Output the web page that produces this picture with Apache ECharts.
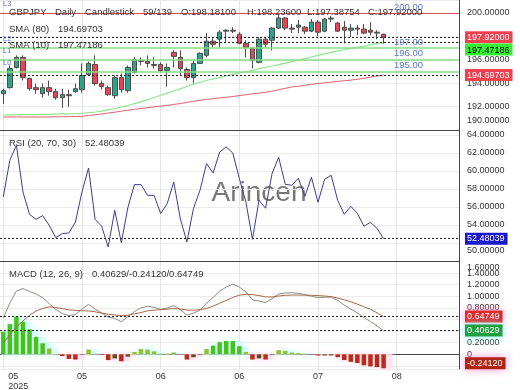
<!DOCTYPE html>
<html>
<head>
<meta charset="utf-8">
<script src="https://cdn.jsdelivr.net/npm/echarts@6.0.0/dist/echarts.min.js"></script>
<style>
html,body{margin:0;padding:0;background:#ffffff;}
#chart{width:520px;height:390px;}
</style>
</head>
<body>
<div id="chart"></div>
<script>
// ---------------- data ----------------
const symbolName = 'GBPJPY';
const periodName = 'Daily';
const chartTypeName = 'Candlestick';
const totalBars = 139;
const slotCount = 70;
const tickStep = 12;
const tickLabels = ['05\n2025', '05', '06', '06', '07', '08'];

const opens = [193.10,193.62,195.34,196.21,194.40,193.62,193.10,193.62,193.28,192.76,
 193.02,193.28,193.45,194.74,195.60,193.97,193.62,192.93,194.48,193.36,
 194.91,195.86,195.86,195.52,195.60,195.09,196.64,196.21,195.17,194.48,
 195.69,196.38,197.59,197.76,198.45,198.53,198.19,197.41,196.98,195.78,
 197.76,197.67,198.71,199.57,198.71,198.79,198.79,198.45,199.22,198.45,
 199.48,199.14,198.79,198.53,198.71,198.62,198.53,198.36,198.181];
const closes = [193.36,195.26,196.21,194.48,193.53,193.45,193.62,193.28,192.76,193.02,
 192.93,193.53,194.66,195.69,193.97,193.71,193.02,194.48,193.45,195.34,
 196.03,195.95,195.69,195.60,195.09,195.34,196.29,195.26,194.48,195.69,
 196.55,197.59,197.33,198.36,198.53,198.45,197.41,197.07,195.95,197.76,
 197.33,198.71,199.57,198.71,198.62,198.97,198.45,199.22,198.36,199.48,
 199.57,198.45,198.53,198.71,198.62,198.28,198.36,198.28,197.92];
const lows = [192.24,193.53,195.26,194.22,193.36,193.10,192.76,192.93,192.59,191.90,
 191.98,193.19,193.19,194.66,193.79,193.45,192.93,192.67,193.19,193.19,
 194.83,195.52,195.34,195.26,194.91,193.71,195.34,194.66,194.22,193.97,
 195.69,196.21,197.07,197.07,197.50,198.28,197.33,196.21,195.26,195.69,
 197.07,196.81,198.62,198.53,198.28,198.28,198.19,198.36,198.02,198.36,
 199.22,198.36,197.41,197.93,198.10,198.19,198.10,197.76,197.38754];
const highs = [193.53,195.52,196.38,196.38,194.48,193.97,193.97,194.22,193.53,193.53,
 193.45,193.97,195.69,195.86,196.38,194.22,193.79,194.66,194.83,195.52,
 196.21,196.21,196.38,196.21,195.78,195.69,196.81,196.81,195.34,195.95,
 196.64,198.28,197.84,198.53,198.60,198.79,198.36,197.67,197.07,197.93,
 197.93,198.79,199.83,199.66,199.05,199.40,198.88,199.48,199.40,199.57,
 199.74,199.22,199.31,199.05,198.97,199.05,199.22,198.53,198.236];

const sma10 = [191.28,191.29,191.30,191.31,191.32,191.32,191.33,191.34,191.36,191.38,
 191.38,191.40,191.43,191.49,191.54,191.61,191.74,191.84,191.97,192.09,
 192.26,192.43,192.59,192.78,192.97,193.15,193.33,193.52,193.72,193.91,
 194.08,194.23,194.37,194.50,194.63,194.76,194.87,194.98,195.10,195.23,
 195.36,195.47,195.58,195.71,195.84,195.97,196.10,196.24,196.38,196.51,
 196.64,196.76,196.86,196.97,197.06,197.17,197.28,197.40,197.47186];
const sma80 = [191.11,191.11,191.11,191.11,191.11,191.11,191.11,191.12,191.13,191.13,
 191.14,191.15,191.17,191.24,191.30,191.37,191.45,191.52,191.61,191.68,
 191.77,191.84,191.91,191.97,192.04,192.11,192.18,192.26,192.36,192.45,
 192.54,192.61,192.68,192.74,192.80,192.86,192.94,193.01,193.09,193.15,
 193.22,193.32,193.44,193.56,193.68,193.74,193.82,193.90,193.97,194.03,
 194.09,194.15,194.21,194.27,194.33,194.43,194.52,194.62,194.69703];

const rsi = [57.11,61.19,62.86,57.67,55.19,54.63,55.04,53.97,52.60,53.04,
 53.11,54.33,57.67,60.33,54.63,53.86,51.56,55.63,52.04,55.93,
 58.49,58.49,57.30,57.30,55.27,56.38,58.78,54.71,52.11,55.82,
 57.86,60.82,59.78,62.11,62.67,62.00,59.16,56.56,52.41,56.74,
 55.86,59.74,61.52,58.52,58.41,59.19,57.19,59.30,56.52,59.08,
 59.52,56.74,55.19,56.08,55.30,53.86,54.30,53.63,52.48039];

const macdLine = [0.626,0.884,1.091,1.134,1.083,1.040,0.979,0.876,0.772,0.703,
 0.666,0.686,0.781,0.862,0.781,0.712,0.643,0.621,0.562,0.648,
 0.738,0.800,0.830,0.810,0.776,0.798,0.838,0.772,0.674,0.710,
 0.760,0.880,0.980,1.090,1.160,1.210,1.160,1.075,0.940,0.919,
 0.893,0.960,1.040,1.057,1.062,1.052,1.028,1.000,0.979,0.983,
 0.988,0.930,0.850,0.780,0.715,0.635,0.565,0.490,0.40629];
const signalLine = [0.195,0.333,0.471,0.574,0.672,0.747,0.790,0.819,0.807,0.788,
 0.767,0.757,0.752,0.748,0.733,0.712,0.691,0.678,0.667,0.674,
 0.698,0.720,0.750,0.760,0.770,0.778,0.790,0.781,0.764,0.760,
 0.770,0.790,0.830,0.880,0.930,0.980,1.020,1.035,1.030,1.012,
 0.991,0.988,1.005,1.017,1.022,1.022,1.022,1.017,1.012,1.005,
 0.995,0.970,0.940,0.905,0.865,0.820,0.775,0.715,0.64749];
const histogram = [0.39,0.52,0.65,0.56,0.43,0.30,0.19,0.10,0.005,-0.03,
 -0.08,-0.09,-0.01,0.08,0.01,-0.01,-0.10,-0.07,-0.12,-0.04,
 0.04,0.09,0.08,0.05,0.01,0.01,0.03,-0.005,-0.09,-0.05,
 -0.01,0.09,0.15,0.21,0.23,0.23,0.14,0.04,-0.09,-0.07,
 -0.09,-0.01,0.07,0.06,0.03,0.02,0.01,-0.005,-0.02,-0.02,
 -0.02,-0.05,-0.10,-0.13,-0.15,-0.19,-0.21,-0.22,-0.2412];

const levelValues = [200, 197, 196, 195];
const levelNames = ['L3', 'L2', 'L1', 'L0'];
const levelTexts = ['200.00', '197.00', '196.00', '195.00'];

// ---------------- chart ----------------
const FONT = '"Liberation Sans", Arial, sans-serif';
const CLEAR = 'rgba(0,0,0,0)';
const last = opens.length - 1;
const cats = Array.from({length: slotCount}, (_, i) => String(i));
const candleData = opens.map((o, i) => [o, closes[i], lows[i], highs[i]]);
const histPos = histogram.map(v => v >= 0 ? v : '-');
const histNeg = histogram.map(v => v < 0 ? v : '-');

function f5(v) { return Math.abs(v) < 1e-9 ? '0' : v.toFixed(5); }
function isMult(v, s) { const r = v / s; return Math.abs(r - Math.round(r)) < 1e-6; }

const dash = {type: [2, 2], color: '#222', width: 1};
function tag(text, bg, fg, shift, glow) {
  const box = {backgroundColor: bg, color: fg, padding: [2, 3, 1, 2], fontSize: 9, fontFamily: FONT};
  const lab = {show: true, position: 'end', distance: 6};
  if (glow) { box.shadowColor = glow; box.shadowBlur = 8; }
  if (!shift) {
    return Object.assign(lab, box, {formatter: text});
  }
  return Object.assign(lab, {
    formatter: '{t|' + text + '}',
    padding: shift > 0 ? [2 * shift, 0, 0, 0] : [0, 0, -2 * shift, 0],
    rich: {t: box}
  });
}

const topMarks = [];
levelValues.forEach((v, k) => {
  topMarks.push({
    yAxis: v,
    lineStyle: {color: k === 0 ? '#dc4a58' : '#88dd88', width: k === 0 ? 1 : 1.6, type: 'solid'},
    label: {show: true, position: 'insideEndTop', distance: [36, 1], formatter: levelTexts[k],
            color: '#5a78cc', fontSize: 9.5, fontFamily: FONT}
  });
  topMarks.push({
    yAxis: v,
    lineStyle: {color: CLEAR, width: 0},
    label: {show: true, position: 'insideStartTop', distance: [3, 5], formatter: levelNames[k],
            color: '#5a78cc', fontSize: 7.5, fontFamily: FONT}
  });
});
topMarks.push({yAxis: closes[last], lineStyle: dash, label: tag(f5(closes[last]), '#f0404e', '#fff', 0)});
topMarks.push({yAxis: sma10[last], lineStyle: dash, label: tag(f5(sma10[last]), '#33ee33', '#000', 7)});
topMarks.push({yAxis: sma80[last], lineStyle: dash, label: tag(f5(sma80[last]), '#f0404e', '#fff', 0)});

function xAxisFor(gi, showLabels) {
  return {
    type: 'category', gridIndex: gi, data: cats, boundaryGap: true,
    axisLine: {show: true, lineStyle: {color: '#444', width: 1}},
    axisTick: {show: false},
    axisLabel: showLabels ? {
      show: true, interval: tickStep - 1, margin: 3, fontSize: 9, lineHeight: 10,
      color: '#333', fontFamily: FONT, alignMinLabel: 'left',
      formatter: (v, i) => {
        const t = tickLabels[Math.round(i / tickStep)] || '';
        return i === 0 ? t.split('\n').map(s => '{f|' + s + '}').join('\n') : t;
      },
      rich: {f: {padding: [0, 0, 0, 5], fontSize: 9, lineHeight: 10, color: '#333', fontFamily: FONT}}
    } : {show: false},
    splitLine: {show: true, interval: (i) => i % tickStep === 0, alignWithLabel: true,
                lineStyle: {color: '#e4e4e4', width: 1}}
  };
}
function yAxisFor(gi, opts) {
  return Object.assign({
    type: 'value', gridIndex: gi, position: 'right', scale: true,
    axisLine: {show: true, lineStyle: {color: '#444', width: 1}},
    axisTick: {show: false},
    splitLine: {show: true, lineStyle: {color: '#ececec', width: 1}}
  }, opts);
}
const labBase = {show: true, margin: 8, fontSize: 9, color: '#333', fontFamily: FONT,
                 showMinLabel: true, showMaxLabel: true};

const posColor = (p) => histogram[p.dataIndex] > 0.12 ? '#46c41c' : '#94c02b';
const negColor = (p) => {
  const i = p.dataIndex;
  return (i > 0 && histogram[i] < histogram[i - 1]) ? '#bd2a19' : '#6b4516';
};

const option = {
  animation: false,
  backgroundColor: '#ffffff',
  textStyle: {fontFamily: FONT},
  grid: [
    {left: 0, right: 61, top: 0, height: 130, outerBoundsMode: 'none'},
    {left: 0, right: 61, top: 130, height: 131, outerBoundsMode: 'none'},
    {left: 0, right: 61, top: 261, height: 108, outerBoundsMode: 'none'}
  ],
  xAxis: [xAxisFor(0, false), xAxisFor(1, false), xAxisFor(2, true)],
  yAxis: [
    yAxisFor(0, {min: 190, max: 201.11, interval: 2,
      axisLabel: Object.assign({}, labBase, {
        formatter: (v) => !isMult(v, 2) ? '' : (Math.abs(v - 190) < 1e-6 ? '{lo|' + f5(v) + '}' : f5(v)),
        rich: {lo: {padding: [0, 0, 18, 0], fontSize: 9, color: '#333', fontFamily: FONT}}
      })}),
    yAxisFor(1, {min: 50, max: 64.556, interval: 2,
      axisLabel: Object.assign({}, labBase, {
        formatter: (v) => !isMult(v, 2) ? '' : (Math.abs(v - 50) < 1e-6 ? '{lo|' + f5(v) + '}' : f5(v)),
        rich: {lo: {padding: [0, 0, 20, 0], fontSize: 9, color: '#333', fontFamily: FONT}}
      })}),
    yAxisFor(2, {min: -0.2534, max: 1.609, minInterval: 0.2, maxInterval: 0.2,
      axisLabel: Object.assign({}, labBase, {
        formatter: (v) => !isMult(v, 0.2) ? '' : (Math.abs(v - 1.6) < 1e-6 ? '{hi|' + f5(v) + '}' : f5(v)),
        rich: {hi: {padding: [12, 0, 0, 0], fontSize: 9, color: '#333', fontFamily: FONT}}
      })})
  ],
  graphic: [
    {type: 'text', z: 0, style: {x: 259, y: 193, text: 'Arincen', font: '28px ' + FONT,
      fill: 'rgba(95,95,95,0.85)', align: 'center', verticalAlign: 'middle',
      textAlign: 'center', textVerticalAlign: 'middle'}},
    ...[
      [9, 12, symbolName], [55, 12, periodName], [85, 12, chartTypeName],
      [143, 12, opens.length + '/' + totalBars],
      [181, 12, 'O:' + f5(opens[last])], [247, 12, 'H:' + f5(highs[last])],
      [307, 12, 'L:' + f5(lows[last])], [368, 12, 'C:' + f5(closes[last])],
      [9, 29, 'SMA (80)'], [58, 29, f5(sma80[last])],
      [9, 45, 'SMA (10)'], [58, 45, f5(sma10[last])],
      [9, 143, 'RSI (20, 70, 30)'], [85, 143, f5(rsi[last])],
      [9, 274, 'MACD (12, 26, 9)'],
      [92, 274, f5(macdLine[last]) + '/' + f5(histogram[last]) + '/' + f5(signalLine[last])]
    ].map(([x, y, t]) => ({type: 'text', z: 100, silent: true, style: {
      x: x, y: y, text: t, font: '9.5px ' + FONT, fill: '#333',
      align: 'left', verticalAlign: 'middle', textAlign: 'left', textVerticalAlign: 'middle'}}))
  ],
  series: [
    {
      type: 'candlestick', xAxisIndex: 0, yAxisIndex: 0, data: candleData, barWidth: 5,
      itemStyle: {color: '#2aa58a', color0: '#ea4452', borderColor: '#4d4d4d', borderColor0: '#4d4d4d', borderWidth: 1},
      markLine: {silent: true, symbol: ['none', 'none'], precision: 5, data: topMarks}
    },
    {type: 'line', xAxisIndex: 0, yAxisIndex: 0, data: sma80, showSymbol: false, symbol: 'none',
     lineStyle: {color: '#e0606c', width: 1}, z: 1},
    {type: 'line', xAxisIndex: 0, yAxisIndex: 0, data: sma10, showSymbol: false, symbol: 'none',
     lineStyle: {color: '#8ee68e', width: 1.2}, z: 1},
    {type: 'line', xAxisIndex: 1, yAxisIndex: 1, data: rsi, showSymbol: false, symbol: 'none',
     lineStyle: {color: '#3d3d98', width: 1},
     markLine: {silent: true, symbol: ['none', 'none'], data: [
       {yAxis: rsi[last], lineStyle: dash, label: tag(f5(rsi[last]), '#1818cc', '#fff', 0)}
     ]}},
    // soft glow behind the histogram
    {type: 'bar', xAxisIndex: 2, yAxisIndex: 2, barWidth: 11, barGap: '-100%', z: 1, silent: true,
     data: histPos,
     itemStyle: {color: '#d8ffff', shadowColor: '#d8ffff', shadowBlur: 6}},
    {type: 'bar', xAxisIndex: 2, yAxisIndex: 2, barWidth: 11, barGap: '-100%', z: 1, silent: true,
     data: histNeg,
     itemStyle: {color: '#ffe2f0', shadowColor: '#ffe2f0', shadowBlur: 6}},
    {type: 'bar', xAxisIndex: 2, yAxisIndex: 2, barWidth: 4.5, barGap: '-100%', z: 2,
     data: histPos,
     itemStyle: {color: posColor}},
    {type: 'bar', xAxisIndex: 2, yAxisIndex: 2, barWidth: 4.5, barGap: '-100%', z: 2,
     data: histNeg,
     itemStyle: {color: negColor},
     markLine: {silent: true, symbol: ['none', 'none'], data: [
       {yAxis: histogram[last], lineStyle: {color: CLEAR, width: 0},
        label: tag(f5(histogram[last]), '#b22412', '#fff', -5, 'rgba(255,120,200,0.8)')}
     ]}},
    {type: 'line', xAxisIndex: 2, yAxisIndex: 2, data: macdLine, showSymbol: false, symbol: 'none',
     lineStyle: {color: '#8c8c80', width: 1}, z: 3,
     markLine: {silent: true, symbol: ['none', 'none'], data: [
       {yAxis: signalLine[last], lineStyle: dash,
        label: tag(f5(signalLine[last]), '#e02a2a', '#fff', 0, 'rgba(255,120,200,0.8)')},
       {yAxis: macdLine[last], lineStyle: dash,
        label: tag(f5(macdLine[last]), '#1f9f3f', '#fff', 0, 'rgba(120,255,255,0.9)')}
     ]}},
    {type: 'line', xAxisIndex: 2, yAxisIndex: 2, data: signalLine, showSymbol: false, symbol: 'none',
     lineStyle: {color: '#a2694a', width: 1}, z: 3}
  ]
};

const chart = echarts.init(document.getElementById('chart'), null, {renderer: 'canvas'});
chart.setOption(option);
</script>
</body>
</html>
